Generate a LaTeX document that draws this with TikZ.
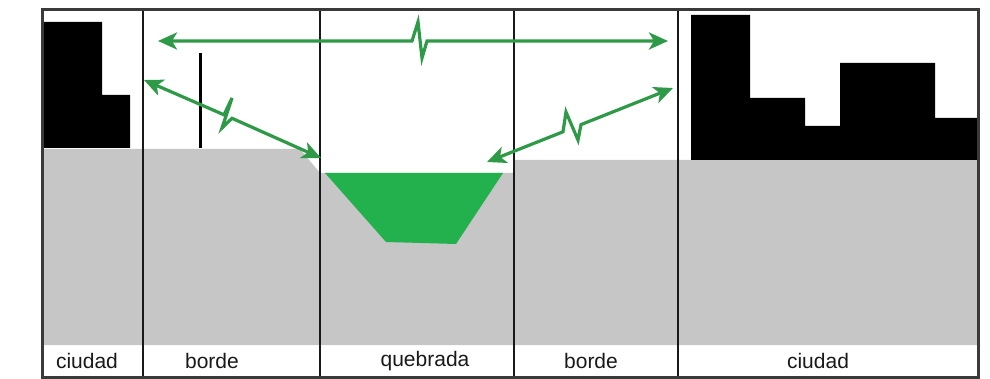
\documentclass[tikz,border=0pt]{standalone}
\usepackage{fontspec}
\setmainfont{Liberation Sans}
\usetikzlibrary{arrows.meta}
\definecolor{groundgray}{HTML}{C6C6C6}
\definecolor{watergreen}{HTML}{22B14C}
\definecolor{arrowgreen}{HTML}{2E9A48}
\definecolor{framegray}{HTML}{3A3A3A}
\tikzset{
  greenarrow/.style={draw=arrowgreen, line width=3.2pt, line join=miter,
    {Stealth[length=19pt,width=17pt,inset=5pt]}-{Stealth[length=19pt,width=17pt,inset=5pt]}},
  divider/.style={draw=black!90, line width=2.5pt},
  lbl/.style={font=\fontsize{21}{25}\selectfont, text=black!90, inner sep=0pt}
}
\begin{document}
\begin{tikzpicture}[x=1pt,y=-1pt]
\useasboundingbox (0,0) rectangle (990,379);
% ground
\fill[groundgray] (43,149) -- (300,149) -- (320,173) -- (514,173) -- (514,160)
  -- (978,160) -- (978,345) -- (43,345) -- cycle;
% buildings left
\fill[black] (43,148) -- (43,22) -- (102,22) -- (102,95) -- (130,95) -- (130,148) -- cycle;
% buildings right
\fill[black] (691,160) -- (691,15) -- (750,15) -- (750,98) -- (805,98) -- (805,126)
  -- (840,126) -- (840,63) -- (935,63) -- (935,118) -- (978,118) -- (978,160) -- cycle;
% water channel
\fill[watergreen] (325,173) -- (503,173) -- (456,244) -- (386,242) -- cycle;
% pole
\draw[black, line width=3pt] (200,53) -- (200,148);
% dividers
\foreach \xx in {143,320,514,678} \draw[divider] (\xx,10) -- (\xx,377);
% frame
\draw[framegray, line width=3pt] (42,10) rectangle (978,377);
% labels
\node[lbl] (l1) at (87,361) {ciudad};
\node[lbl] (l2) at (212,361) {borde};
\node[lbl] (l3) at (425,361) {quebrada};
\node[lbl] (l4) at (591,361) {borde};
\node[lbl] (l5) at (818,361) {ciudad};
% arrow end points
\coordinate (topL) at (158,41);
\coordinate (topR) at (668,41);
\coordinate (diagLa) at (144,80);
\coordinate (diagLb) at (321,158);
\coordinate (diagRa) at (487,162);
\coordinate (diagRb) at (673,88);
% arrows with break marks
\draw[greenarrow] (topL) -- (412,41) -- (418,22) -- (422,58) -- (427,41) -- (topR);
\draw[greenarrow] (diagLa) -- (224,114.8) -- (232,98) -- (222,128) -- (232,118.3) -- (diagLb);
\draw[greenarrow] (diagRa) -- (563,131.8) -- (566,112) -- (578,140) -- (581,124.6) -- (diagRb);
\end{tikzpicture}
\end{document}
